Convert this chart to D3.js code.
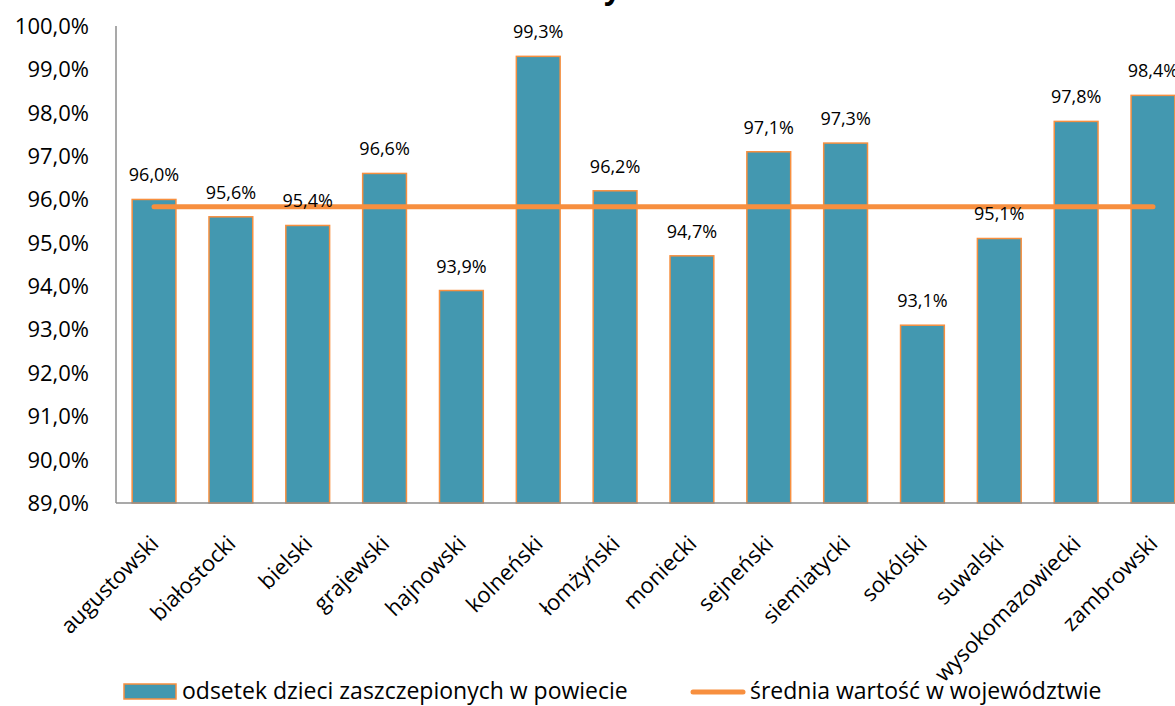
<!DOCTYPE html>
<html>
<head>
<meta charset="utf-8">
<title>Odsetek dzieci zaszczepionych</title>
<script src="https://d3js.org/d3.v7.min.js"></script>
<style>
  body { margin: 0; background: #fff; font-family: "Open Sans", sans-serif; }
  svg { display: block; }
  .tick-label { font-size: 22px; fill: #000; }
  .cat-label { font-size: 22px; fill: #000; }
  .val-label { font-size: 18px; fill: #000; }
  .legend text { font-size: 23px; fill: #000; }
</style>
</head>
<body>
<svg width="1175" height="706"></svg>
<script>
// powiaty i wartości
var categories = ["augustowski", "białostocki", "bielski", "grajewski", "hajnowski",
  "kolneński", "łomżyński", "moniecki", "sejneński", "siemiatycki", "sokólski",
  "suwalski", "wysokomazowiecki", "zambrowski"];
var values = [96.0, 95.6, 95.4, 96.6, 93.9, 99.3, 96.2, 94.7, 97.1, 97.3, 93.1, 95.1, 97.8, 98.4];
var average = 95.83;
var yTicks = [89, 90, 91, 92, 93, 94, 95, 96, 97, 98, 99, 100];
var seriesNames = ["odsetek dzieci zaszczepionych w powiecie", "średnia wartość w województwie"];

var barFill = "#4398b0", orange = "#f78f3f", axisGray = "#8c8c8c";

var svg = d3.select("svg");
var plotLeft = 116, plotRight = 1191, plotTop = 26, plotBottom = 503;

var x = d3.scaleBand().domain(categories).range([plotLeft, plotRight]).paddingInner(0.43).paddingOuter(0.21);
var y = d3.scaleLinear().domain([89, 100]).range([plotBottom, plotTop]);

var fmt = function(v) { return v.toFixed(1).replace(".", ",") + "%"; };

// tytuł (prawie w całości poza kadrem)
svg.append("text")
    .attr("x", 621).attr("y", -1)
    .attr("text-anchor", "end")
    .style("font-size", "30px").style("font-weight", "bold")
    .text("Powiaty");

// oś Y
svg.append("g").selectAll("text")
  .data(yTicks)
  .enter().append("text")
    .attr("class", "tick-label")
    .attr("x", 89)
    .attr("y", function(d) { return y(d); })
    .attr("dy", "0.36em")
    .attr("text-anchor", "end")
    .text(fmt);

// słupki
svg.append("g").selectAll("rect")
  .data(values)
  .enter().append("rect")
    .attr("x", function(d, i) { return x(categories[i]); })
    .attr("y", function(d) { return y(d); })
    .attr("width", x.bandwidth())
    .attr("height", function(d) { return y(89) - y(d); })
    .style("fill", barFill)
    .style("stroke", orange)
    .style("stroke-width", 1.5);

svg.append("line")
    .attr("x1", plotLeft).attr("x2", plotLeft).attr("y1", plotTop).attr("y2", plotBottom)
    .style("stroke", axisGray).style("stroke-width", 1.5);
svg.append("line")
    .attr("x1", plotLeft).attr("x2", 1175).attr("y1", plotBottom).attr("y2", plotBottom)
    .style("stroke", axisGray).style("stroke-width", 1.5);

// linia średniej
var cx = function(c) { return x(c) + x.bandwidth() / 2; };
svg.append("line")
    .attr("x1", cx(categories[0])).attr("x2", cx(categories[categories.length - 1]))
    .attr("y1", y(average)).attr("y2", y(average))
    .style("stroke", orange).style("stroke-width", 5).style("stroke-linecap", "round");

// etykiety wartości
svg.append("g").selectAll("text")
  .data(values)
  .enter().append("text")
    .attr("class", "val-label")
    .attr("x", function(d, i) { return cx(categories[i]); })
    .attr("y", function(d) { return y(d) - 18; })
    .attr("text-anchor", "middle")
    .text(fmt);

// etykiety kategorii
svg.append("g").selectAll("text")
  .data(categories)
  .enter().append("text")
    .attr("class", "cat-label")
    .attr("transform", function(d) { return "translate(" + (cx(d) + 6) + "," + (plotBottom + 42) + ") rotate(-45)"; })
    .attr("text-anchor", "end")
    .text(function(d) { return d; });

// legenda
var legend = svg.append("g").attr("class", "legend");
legend.append("rect")
    .attr("x", 124).attr("y", 684).attr("width", 52).attr("height", 15)
    .style("fill", barFill).style("stroke", orange).style("stroke-width", 1.5);
legend.append("text").attr("x", 182).attr("y", 699).text(seriesNames[0]);
legend.append("line")
    .attr("x1", 693).attr("x2", 743).attr("y1", 692).attr("y2", 692)
    .style("stroke", orange).style("stroke-width", 5).style("stroke-linecap", "round");
legend.append("text").attr("x", 750).attr("y", 699).text(seriesNames[1]);
</script>
</body>
</html>
